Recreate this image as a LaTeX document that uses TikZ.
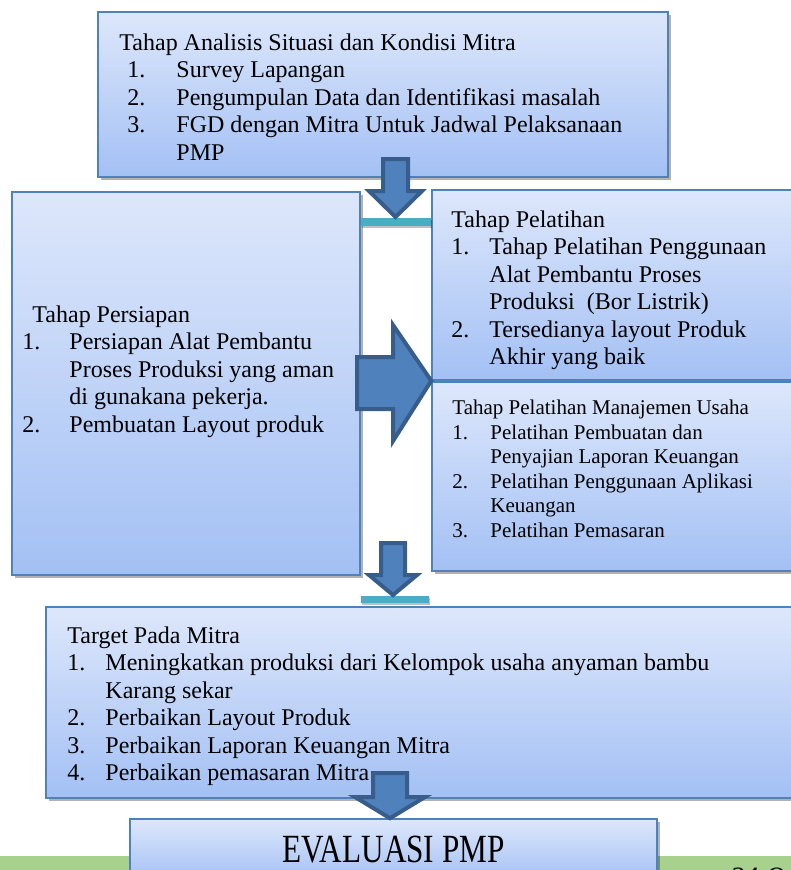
\documentclass[tikz,border=0pt]{standalone}
\usepackage{fontspec}
\setmainfont{Liberation Serif}
\usetikzlibrary{calc, shadows}
\definecolor{boxtop}{HTML}{DDE7FB}
\definecolor{boxbottom}{HTML}{A3C0F4}
\definecolor{boxline}{HTML}{4F81BD}
\definecolor{arrowfill}{HTML}{4F81BD}
\definecolor{arrowline}{HTML}{385D8A}
\definecolor{barteal}{HTML}{4BACC6}
\definecolor{bargreen}{HTML}{A9D18E}

\begin{document}
\begin{tikzpicture}[x=1pt,y=-1pt]
			\tikzset{stage box/.style={draw=boxline,line width=1.5pt,rectangle,inner sep=0pt,top color=boxtop,bottom color=boxbottom,
					drop shadow={shadow xshift=3pt,shadow yshift=-3pt,opacity=0.3,fill=black}},
				stage text/.style={anchor=north west,inner sep=0pt,align=left,font=\fontsize{24}{27.5}\selectfont},
				small text/.style={stage text,font=\fontsize{21}{24.6}\selectfont},
				link bar/.style={fill=barteal,draw=none,drop shadow={shadow xshift=1pt,shadow yshift=-2pt,opacity=0.25,fill=black}},
				block arrow/.style={fill=arrowfill,draw=arrowline,line width=4pt,line join=miter}}
			
			\useasboundingbox (0,0) rectangle (791,870);
			\clip (0,0) rectangle (791,870);
			
			% page strip at the bottom
			\fill[bargreen] (0,856) rectangle (791,880);
			\node[anchor=base west,inner sep=0pt,font=\fontsize{28}{30}\selectfont\itshape] (page) at (730,886) {24 O};
			
			% stages
			\node[stage box,minimum width=570pt,minimum height=165pt] (analisis) at (383,94.5) {};
			\node[stage box,minimum width=348pt,minimum height=383pt] (persiapan) at (186,383.5) {};
			\node[stage box,minimum width=368pt,minimum height=190pt] (pelatihan) at (616,285) {};
			\node[stage box,minimum width=368pt,minimum height=189pt] (manajemen) at (616,476.5) {};
			\node[stage box,minimum width=754pt,minimum height=191pt] (target) at (423,702.5) {};
			\node[stage box,minimum width=527pt,minimum height=62pt,font=\fontsize{40}{44}\selectfont] (evaluasi) at (393.5,850) {\scalebox{0.78}[1]{EVALUASI PMP}};
			
			\node[stage text] (analisis-txt) at ($(analisis.north west)+(22,19.75)$) {%
				\begin{tabular}{@{}p{57pt}@{}l@{}}
					\multicolumn{2}{@{}l@{}}{Tahap Analisis Situasi dan Kondisi Mitra}\\
					\hspace*{8pt}1. & Survey Lapangan\\
					\hspace*{8pt}2. & Pengumpulan Data dan Identifikasi masalah\\
					\hspace*{8pt}3. & FGD dengan Mitra Untuk Jadwal Pelaksanaan\\
					& PMP
			\end{tabular}};
			\node[stage text] (persiapan-txt) at ($(persiapan.north west)+(11,111.75)$) {%
				\begin{tabular}{@{}p{47pt}@{}l@{}}
					\multicolumn{2}{@{}l@{}}{\hspace*{10pt}Tahap Persiapan}\\
					1. & Persiapan Alat Pembantu\\
					& Proses Produksi yang aman\\
					& di gunakana pekerja.\\
					2. & Pembuatan Layout produk
			\end{tabular}};
			\node[stage text] (pelatihan-txt) at ($(pelatihan.north west)+(20,18.75)$) {%
				\begin{tabular}{@{}p{38pt}@{}l@{}}
					\multicolumn{2}{@{}l@{}}{Tahap Pelatihan}\\
					1. & Tahap Pelatihan Penggunaan\\
					& Alat Pembantu Proses\\
					& Produksi \ (Bor Listrik)\\
					2. & Tersedianya layout Produk\\
					& Akhir yang baik
			\end{tabular}};
			\node[small text] (manajemen-txt) at ($(manajemen.north west)+(21,15.8)$) {%
				\begin{tabular}{@{}p{38pt}@{}l@{}}
					\multicolumn{2}{@{}l@{}}{Tahap Pelatihan Manajemen Usaha}\\
					1. & Pelatihan Pembuatan dan\\
					& Penyajian Laporan Keuangan\\
					2. & Pelatihan Penggunaan Aplikasi\\
					& Keuangan\\
					3. & Pelatihan Pemasaran
			\end{tabular}};
			\node[stage text] (target-txt) at ($(target.north west)+(22,17.75)$) {%
				\begin{tabular}{@{}p{38pt}@{}l@{}}
					\multicolumn{2}{@{}l@{}}{Target Pada Mitra}\\
					1. & Meningkatkan produksi dari Kelompok usaha anyaman bambu\\
					& Karang sekar\\
					2. & Perbaikan Layout Produk\\
					3. & Perbaikan Laporan Keuangan Mitra\\
					4. & Perbaikan pemasaran Mitra
			\end{tabular}};
			
			% bars under the arrows
			\path[link bar] (persiapan.east |- 0,218) rectangle (pelatihan.west |- 0,226);
			\path[link bar] (persiapan.east |- 0,596) rectangle (429,603);
			
			% block arrows
			\draw[block arrow] (383,159) -- (408,159) -- (408,191) -- (422,191) -- (395.5,217) -- (369,191) -- (383,191) -- cycle;
			\draw[block arrow] (357,357) -- (393,357) -- (393,325) -- (pelatihan.south west) -- (393,441) -- (393,409) -- (357,409) -- cycle;
			\draw[block arrow] (381,543) -- (405,543) -- (405,575) -- (417,575) -- (393,595) -- (369,575) -- (381,575) -- cycle;
			\draw[block arrow] (373,773) -- (407,773) -- (407,797) -- (425,797) -- (evaluasi.north -| 390,0) -- (355,797) -- (373,797) -- cycle;
\end{tikzpicture}
\end{document}
